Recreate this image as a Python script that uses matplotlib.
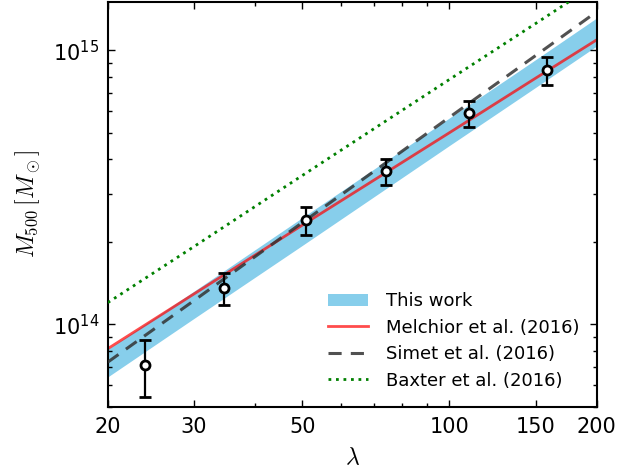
# -*- coding: utf-8 -*-
# M500 vs richness (lambda): this work's band vs literature scaling relations,
# plus the binned stacked-lensing points with error bars.

import numpy as np
import matplotlib
matplotlib.use("Agg")
import matplotlib.pyplot as plt
from matplotlib.ticker import FixedLocator, FixedFormatter, NullFormatter

# ----------------- dados -----------------
LAMBDA_GRID = [20, 30, 50, 100, 150, 200]

BAND_LOW = [6.43e13, 1.05e14, 1.94e14, 4.49e14, 7.31e14, 1.035e15]
BAND_HIGH = [8.11e13, 1.32e14, 2.45e14, 5.66e14, 9.23e14, 1.31e15]

MELCHIOR = [8.15e13, 1.29e14, 2.30e14, 5.00e14, 7.90e14, 1.09e15]
SIMET = [7.28e13, 1.22e14, 2.35e14, 5.69e14, 9.55e14, 1.38e15]
BAXTER = [1.20e14, 1.92e14, 3.49e14, 7.82e14, 1.25e15, 1.75e15]

PTS_LAMBDA = [23.8, 34.6, 50.8, 74.3, 109.9, 158.0]
PTS_MASS = [7.08e13, 1.36e14, 2.40e14, 3.61e14, 5.88e14, 8.44e14]
PTS_ERR_LO = [5.43e13, 1.18e14, 2.12e14, 3.21e14, 5.24e14, 7.48e14]
PTS_ERR_HI = [8.75e13, 1.54e14, 2.67e14, 4.01e14, 6.53e14, 9.44e14]

XTICKS = [20, 30, 50, 100, 150, 200]
XTICK_LABELS = ["20", "30", "50", "100", "150", "200"]

# ----------------- estilo -----------------
plt.rcParams.update({
    "mathtext.fontset": "cm",
    "font.family": "DejaVu Sans",
    "axes.linewidth": 1.5,
    "xtick.direction": "in", "ytick.direction": "in",
    "xtick.top": True, "ytick.right": True,
    "xtick.major.size": 5, "ytick.major.size": 5,
    "xtick.minor.size": 3, "ytick.minor.size": 3,
    "xtick.major.width": 1.0, "ytick.major.width": 1.0,
    "xtick.minor.width": 1.0, "ytick.minor.width": 1.0,
    "xtick.labelsize": 15, "ytick.labelsize": 15,
    "xtick.major.pad": 7, "ytick.major.pad": 6,
})

fig = plt.figure(figsize=(6.34, 4.72), dpi=100)
ax = fig.add_axes([0.170, 0.138, 0.771, 0.858])

lam = np.array(LAMBDA_GRID, dtype=float)

ax.fill_between(lam, BAND_LOW, BAND_HIGH, color="#87ceeb", lw=0, label="This work", zorder=1)
ax.plot(lam, MELCHIOR, color="red", alpha=0.7, lw=2, label="Melchior et al. (2016)", zorder=2)
ax.plot(lam, SIMET, color="#333333", alpha=0.85, lw=2.2, ls=(0, (4.3, 3.0)),
        label="Simet et al. (2016)", zorder=3)
ax.plot(lam, BAXTER, color="green", lw=2, ls=(0, (1, 1.7)), label="Baxter et al. (2016)", zorder=3)

m = np.array(PTS_MASS)
yerr = [m - np.array(PTS_ERR_LO), np.array(PTS_ERR_HI) - m]
ax.errorbar(PTS_LAMBDA, m, yerr=yerr, fmt="o", mfc="white", mec="black", mew=2,
            ms=6.5, ecolor="black", elinewidth=1.6, capsize=4.2, capthick=1.6, zorder=5)

ax.set_xscale("log")
ax.set_yscale("log")
ax.set_xlim(20, 200)
ax.set_ylim(5.0e13, 1.5e15)

ax.xaxis.set_major_locator(FixedLocator(XTICKS))
ax.xaxis.set_major_formatter(FixedFormatter(XTICK_LABELS))
ax.xaxis.set_minor_formatter(NullFormatter())

ax.set_xlabel(r"$\lambda$", fontsize=17, labelpad=6)
ax.set_ylabel(r"$M_{500}\,[M_\odot]$", fontsize=17, labelpad=8)

ax.legend(loc="lower right", frameon=False, fontsize=13, handlelength=2.2,
          handletextpad=1.0, labelspacing=0.47, borderaxespad=0.55)

fig.savefig("out.png", dpi=100)
